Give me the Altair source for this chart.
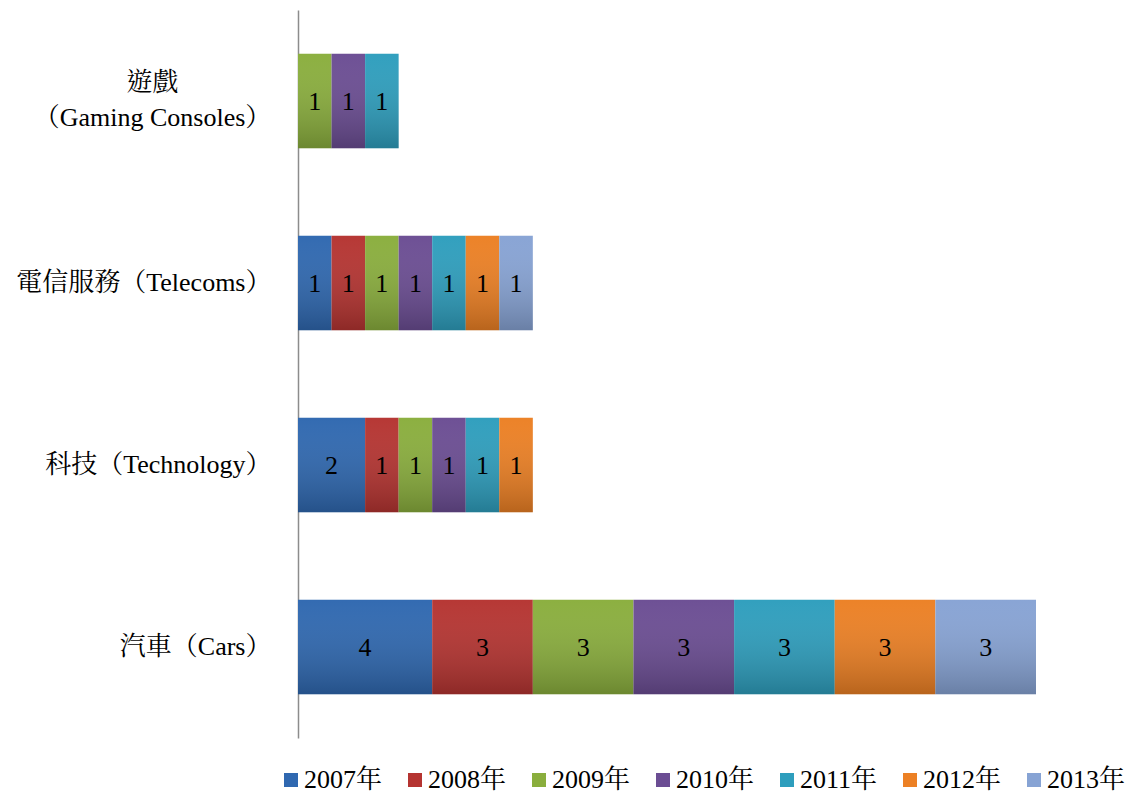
import altair as alt
import pandas as pd

categories = ["遊戲\n（Gaming Consoles）", "電信服務（Telecoms）", "科技（Technology）", "汽車（Cars）"]
years = ["2007年", "2008年", "2009年", "2010年", "2011年", "2012年", "2013年"]
colors = ["#2f68b0", "#b53431", "#8aae3d", "#6b4d93", "#2e9ebd", "#ec8024", "#87a3d4"]

gaming = [0, 0, 1, 1, 1, 0, 0]
telecoms = [1, 1, 1, 1, 1, 1, 1]
technology = [2, 1, 1, 1, 1, 1, 0]
cars = [4, 3, 3, 3, 3, 3, 3]

rows = []
for cat, vals in zip(categories, [gaming, telecoms, technology, cars]):
    for i, (y, v) in enumerate(zip(years, vals)):
        if v > 0:
            rows.append({"cat": cat, "year": y, "order": i, "value": v})
df = pd.DataFrame(rows)

FONT = "Liberation Serif, Times New Roman, Noto Serif CJK TC, Noto Sans CJK TC, serif"
IS_GAME = "indexof(datum.label, '遊戲') >= 0"

base = alt.Chart(df).transform_stack(
    stack="value", groupby=["cat"], as_=["x0", "x1"], sort=[alt.SortField("order")]
).transform_calculate(mid="(datum.x0 + datum.x1) / 2")

y_enc = alt.Y(
    "cat:N",
    sort=categories,
    scale=alt.Scale(paddingInner=0.48, paddingOuter=0.24),
    axis=alt.Axis(
        title=None,
        ticks=False,
        domainColor="#8c8c8c",
        domainWidth=1.5,
        labelFont=FONT,
        labelFontSize=26,
        labelColor="#000000",
        labelAlign={"condition": {"test": IS_GAME, "value": "center"}, "value": "right"},
        labelPadding={"condition": {"test": IS_GAME, "value": 146}, "value": 27},
        labelOffset={"condition": {"test": IS_GAME, "value": -18}, "value": 0},
        labelLimit=0,
        labelLineHeight=35,
        labelExpr="split(datum.label, '\\n')",
    ),
)
x_scale = alt.Scale(domain=[0, 22], nice=False, zero=True)

bars = base.mark_bar(cornerRadius=0).encode(
    y=y_enc,
    x=alt.X("x0:Q", scale=x_scale, axis=None),
    x2="x1:Q",
    color=alt.Color(
        "year:N",
        scale=alt.Scale(domain=years, range=colors),
        legend=alt.Legend(
            title=None,
            orient="none",
            direction="horizontal",
            legendX=-20,
            legendY=757,
            symbolType="square",
            symbolSize=196,
            symbolStrokeWidth=0,
            symbolOpacity=1,
            labelFont=FONT,
            labelFontSize=26,
            labelColor="#000000",
            labelOffset=0,
            columnPadding=19,
            symbolOffset=0,
        ),
    ),
)

shade = base.mark_bar().encode(
    y=alt.Y("cat:N", sort=categories),
    x=alt.X("x0:Q", scale=x_scale),
    x2="x1:Q",
    detail="year:N",
    color=alt.value({
        "gradient": "linear",
        "x1": 0, "y1": 0, "x2": 0, "y2": 1,
        "stops": [
            {"offset": 0, "color": "rgba(255,255,255,0.02)"},
            {"offset": 1, "color": "rgba(0,0,0,0.22)"},
        ],
    }),
)

labels = base.mark_text(font=FONT, fontSize=26, color="#000000", baseline="middle", dy=1).encode(
    y=alt.Y("cat:N", sort=categories),
    x=alt.X("mid:Q", scale=x_scale),
    text="value:Q",
)

chart = alt.layer(bars, shade, labels).properties(
    width=738,
    height=728,
    autosize=alt.AutoSizeParams(type="none"),
    padding={"left": 298, "top": 10, "right": 91, "bottom": 58},
).configure_view(stroke=None)

chart.save("out.html", embed_options={"renderer": "svg", "actions": False})
